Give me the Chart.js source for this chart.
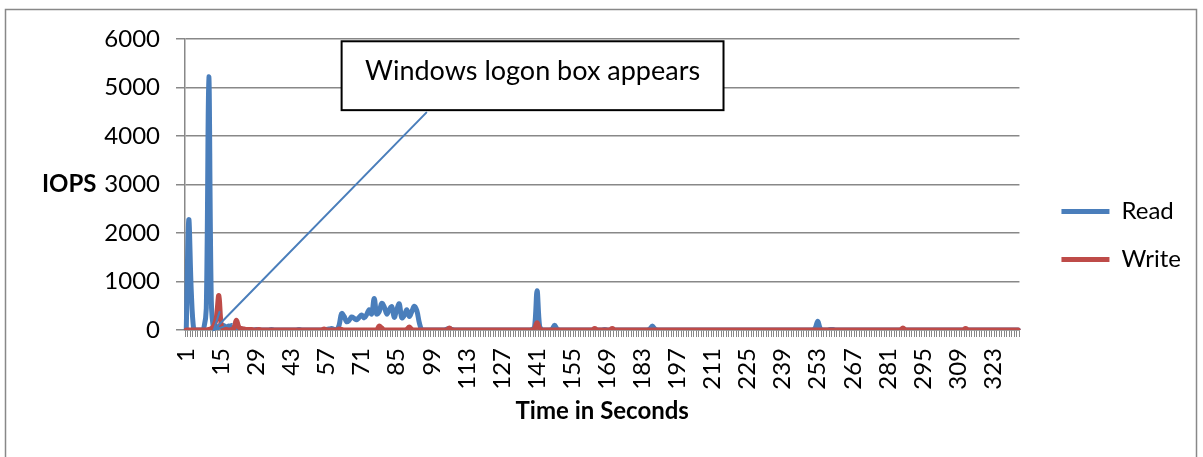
<!DOCTYPE html>
<html><head><meta charset="utf-8">
<script src="https://cdn.jsdelivr.net/npm/chart.js@4.4.1/dist/chart.umd.min.js"></script>
<style>html,body{margin:0;padding:0;background:#fff;overflow:hidden}#wrap{width:1203px;height:457px;position:relative}</style>
</head><body><div id="wrap"><canvas id="c" width="1203" height="457"></canvas></div>
<script>
// ---- data ----
const categories = Array.from({length: 333}, (_, i) => String(i + 1));
const tickLabels = ['1','15','29','43','57','71','85','99','113','127','141','155','169','183','197','211','225','239','253','267','281','295','309','323'];
const yTicks = [0, 1000, 2000, 3000, 4000, 5000, 6000];
const seriesNames = ['Read', 'Write'];
const readIOPS = [
  0,2270,800,0,0,0,0,30,450,5220,600,0,20,80,100,90,60,80,50,40,
  30,20,20,10,10,0,0,0,10,0,0,0,0,0,10,0,0,0,0,0,
  0,0,0,0,0,10,0,0,0,0,0,0,0,0,0,0,10,20,30,10,
  0,100,340,280,170,200,270,240,210,260,310,250,320,420,330,650,330,380,550,480,
  330,420,480,260,420,540,250,300,420,280,380,490,400,150,0,0,0,0,0,0,
  0,0,0,0,20,30,10,0,0,0,0,0,0,0,0,0,0,0,0,0,
  0,0,0,0,0,0,0,0,0,0,0,0,0,0,0,0,0,0,10,60,
  810,80,0,0,0,0,20,100,20,0,0,0,0,0,0,0,0,0,0,0,
  0,0,0,0,0,0,0,10,0,0,0,0,0,0,0,0,0,0,0,0,
  0,0,0,0,0,20,80,20,0,0,0,0,0,0,0,0,0,0,0,0,
  0,0,0,0,0,0,0,0,0,0,0,0,0,0,0,0,0,0,0,0,
  0,0,0,0,0,0,0,0,0,0,0,0,0,0,0,0,0,0,0,0,
  0,0,0,0,0,0,0,0,0,0,0,40,180,30,0,0,0,10,10,0,
  0,0,0,0,0,0,0,0,0,0,0,0,0,0,0,0,0,0,0,0,
  0,0,0,0,0,0,10,0,0,0,0,0,0,0,0,0,0,0,0,0,
  0,0,0,0,0,0,0,0,0,0,0,0,0,0,0,0,0,0,0,0,
  0,0,0,0,0,0,0,0,0,0,0,0,0
];
const writeIOPS = [
  0,0,0,0,0,0,0,0,0,10,30,80,250,710,80,20,10,0,10,40,
  200,60,30,20,10,10,10,0,0,10,0,0,0,0,0,0,0,0,0,0,
  0,0,0,0,0,0,0,0,0,0,0,0,0,0,0,20,0,0,0,0,
  0,20,10,0,0,0,0,0,0,0,0,0,0,0,0,0,0,80,40,0,
  0,0,0,0,0,0,0,0,10,60,10,0,0,0,0,0,0,0,0,0,
  0,0,0,0,0,40,0,0,0,0,0,0,0,0,0,0,0,0,0,0,
  0,0,0,0,0,0,0,0,0,0,0,0,0,0,0,0,0,0,0,30,
  150,30,0,0,0,0,0,0,0,0,0,0,0,0,0,0,0,0,0,0,
  0,0,0,30,0,0,0,0,0,0,30,0,0,0,0,0,0,0,0,0,
  0,0,0,0,0,0,0,0,0,0,0,0,0,0,0,0,0,0,0,0,
  0,0,0,0,0,0,0,0,0,0,0,0,0,0,0,0,0,0,0,0,
  0,0,0,0,0,0,0,0,0,0,0,0,0,0,0,0,0,0,0,0,
  0,0,0,0,0,0,0,0,0,0,0,0,0,0,0,0,0,0,0,0,
  0,0,0,0,0,0,0,0,0,0,0,0,0,0,0,0,0,0,0,0,
  0,0,0,0,0,0,40,0,0,0,0,0,0,0,0,0,0,0,0,0,
  0,0,0,0,0,0,0,0,0,0,0,30,0,0,0,0,0,0,0,0,
  0,0,0,0,0,0,0,0,0,0,0,0,0
];
const yAxisTitle = 'IOPS';
const xAxisTitle = 'Time in Seconds';
const calloutText = 'Windows logon box appears';
// callout placed in data space (category index / IOPS value)
const callout = {left: 62.0, right: 214.4, top: 5953, bottom: 4533, fromX: 95.8, fromY: 4481, toX: 11.0, toY: 0};

// ---- styling ----
const FONT = 'Lato, "Open Sans", sans-serif';
const BLUE = '#4A7EBB', RED = '#BE4B48', GRID = '#888888';
Chart.defaults.font.family = FONT;
Chart.defaults.color = '#000';

const decor = {
  id: 'decor',
  beforeDraw(chart) {
    const ctx = chart.ctx;
    ctx.save();
    ctx.fillStyle = '#fff';
    ctx.fillRect(0, 0, chart.width, chart.height);
    ctx.strokeStyle = GRID; ctx.lineWidth = 1.5;
    ctx.strokeRect(5.5, 9.5, 1191, 470);
    ctx.restore();
  },
  afterDraw(chart) {
    const ctx = chart.ctx, xs = chart.scales.x, ys = chart.scales.y, ca = chart.chartArea;
    ctx.save();
    // y-axis title (horizontal, like the original)
    ctx.font = 'bold 24px ' + FONT;
    ctx.fillStyle = '#000'; ctx.textAlign = 'left'; ctx.textBaseline = 'middle';
    ctx.fillText(yAxisTitle, 42, (ca.top + ca.bottom) / 2);
    // callout arrow
    const x0 = xs.getPixelForValue(callout.fromX), y0 = ys.getPixelForValue(callout.fromY);
    const x1 = xs.getPixelForValue(callout.toX), y1 = ys.getPixelForValue(callout.toY);
    ctx.strokeStyle = BLUE; ctx.lineWidth = 2; ctx.lineCap = 'round';
    ctx.beginPath(); ctx.moveTo(x0, y0); ctx.lineTo(x1, y1); ctx.stroke();
    const ang = Math.atan2(y0 - y1, x0 - x1), wl = 19, wa = 0.47;
    ctx.beginPath();
    ctx.moveTo(x1 + wl * Math.cos(ang - wa), y1 + wl * Math.sin(ang - wa));
    ctx.lineTo(x1, y1);
    ctx.lineTo(x1 + wl * Math.cos(ang + wa), y1 + wl * Math.sin(ang + wa));
    ctx.stroke();
    // callout box
    const L = xs.getPixelForValue(callout.left), R = xs.getPixelForValue(callout.right);
    const T = ys.getPixelForValue(callout.top), B = ys.getPixelForValue(callout.bottom);
    ctx.fillStyle = '#fff'; ctx.fillRect(L, T, R - L, B - T);
    ctx.strokeStyle = '#000'; ctx.lineWidth = 2; ctx.strokeRect(L, T, R - L, B - T);
    ctx.fillStyle = '#000'; ctx.font = '27px ' + FONT; ctx.textAlign = 'center'; ctx.textBaseline = 'alphabetic';
    ctx.fillText(calloutText, (L + R) / 2, T + 39);
    ctx.restore();
  }
};

new Chart(document.getElementById('c'), {
  type: 'line',
  data: {
    labels: categories,
    datasets: [
      {label: seriesNames[0], data: readIOPS, borderColor: BLUE, backgroundColor: BLUE, borderWidth: 5,
       pointRadius: 0, tension: 0.35, borderCapStyle: 'round', borderJoinStyle: 'round', fill: false, order: 2},
      {label: seriesNames[1], data: writeIOPS, borderColor: RED, backgroundColor: RED, borderWidth: 5,
       pointRadius: 0, tension: 0.35, borderCapStyle: 'round', borderJoinStyle: 'round', fill: false, order: 1}
    ]
  },
  options: {
    responsive: false, animation: false, devicePixelRatio: 1,
    layout: {padding: {top: 39, bottom: 25, left: 0, right: 12}},
    plugins: {
      tooltip: {enabled: false},
      legend: {
        position: 'right', align: 'center',
        labels: {
          usePointStyle: true, pointStyle: 'line', pointStyleWidth: 48,
          padding: 24, font: {size: 24}, color: '#000',
          sort: (a, b) => a.datasetIndex - b.datasetIndex
        }
      }
    },
    scales: {
      x: {
        type: 'category', offset: true,
        grid: {display: true, offset: true, drawOnChartArea: false, drawTicks: true, tickLength: 7, color: GRID, lineWidth: 1},
        border: {display: true, color: GRID, width: 1.5},
        ticks: {
          autoSkip: false, maxRotation: 90, minRotation: 90, padding: 11, font: {size: 24}, color: '#000',
          callback: (v, i) => tickLabels.includes(categories[i]) ? categories[i] : ''
        },
        title: {display: true, text: xAxisTitle, font: {size: 24, weight: 'bold'}, color: '#000', padding: {top: 0, bottom: 6}},
        afterFit: (s) => { s.height = 102; }
      },
      y: {
        type: 'linear', min: 0, max: 6000,
        afterBuildTicks: (s) => { s.ticks = yTicks.map(v => ({value: v})); },
        grid: {color: GRID, lineWidth: 1.5, drawTicks: true, tickLength: 9},
        border: {display: true, color: GRID, width: 1.5},
        ticks: {padding: 16, font: {size: 24}, color: '#000', callback: (v) => String(v)},
        afterFit: (s) => { s.width = 185; }
      },
      sp: {
        type: 'linear', position: 'right', display: true,
        grid: {display: false}, border: {display: false}, ticks: {display: false},
        afterFit: (s) => { s.width = 18; }
      }
    }
  },
  plugins: [decor]
});
</script>
</body></html>
